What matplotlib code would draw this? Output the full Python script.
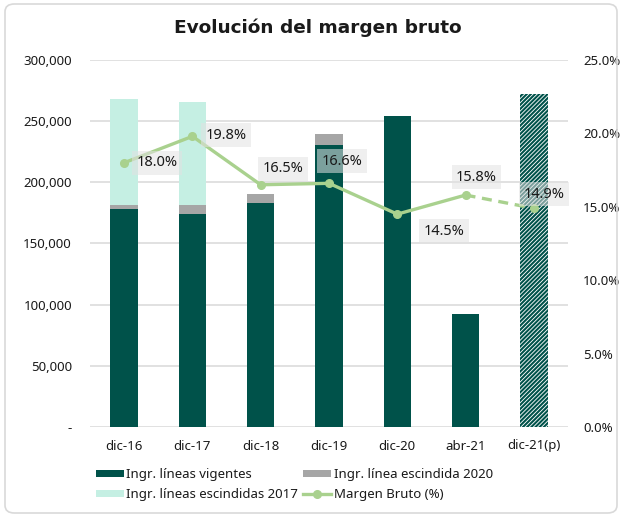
"""Evolución del margen bruto: ingresos apilados (barras) + margen bruto (%) en eje derecho."""

import matplotlib
matplotlib.use("Agg")
import matplotlib.pyplot as plt
from matplotlib.patches import Patch, FancyBboxPatch
from matplotlib.lines import Line2D
from matplotlib.ticker import FuncFormatter, MultipleLocator

plt.rcParams["font.family"] = ["Noto Sans", "DejaVu Sans"]
plt.rcParams["hatch.linewidth"] = 1.5

# Datos
categorias = ["dic-16", "dic-17", "dic-18", "dic-19", "dic-20", "abr-21", "dic-21(p)"]
vigentes = [178000, 174300, 182800, 230500, 254500, 92500, 272000]
escindida_2020 = [3600, 7400, 7900, 9300, 0, 0, 0]
escindidas_2017 = [86500, 84000, 0, 0, 0, 0, 0]
margen = [18.0, 19.8, 16.5, 16.6, 14.5, 15.8, 14.9]

# Paleta
VERDE_OSC = "#00524a"
GRIS = "#a6a6a6"
VERDE_CLARO = "#c5efe3"
LINEA = "#a9d18e"
TEXTO = "#1a1a1a"

W, H = 621, 517
fig = plt.figure(figsize=(W / 100, H / 100), dpi=100)

# marco redondeado de la figura
fig.patches.append(FancyBboxPatch((5 / W, 4 / H), 612 / W, 509 / H,
                                  boxstyle="round,pad=0,rounding_size=0.015",
                                  transform=fig.transFigure, facecolor="none",
                                  edgecolor="#d9d9d9", linewidth=1.2))

ax = fig.add_axes([90 / W, 1 - 427 / H, 478 / W, 367 / H])
ax2 = ax.twinx()

x = list(range(len(categorias)))
ancho = 0.40
n = len(categorias)

# barras reales (la última es proyección, rayada)
ax.bar(x[:-1], vigentes[:-1], width=ancho, color=VERDE_OSC, zorder=2)
ax.bar(x[:-1], escindida_2020[:-1], width=ancho, bottom=vigentes[:-1], color=GRIS, zorder=2)
base3 = [a + b for a, b in zip(vigentes, escindida_2020)]
ax.bar(x[:-1], escindidas_2017[:-1], width=ancho, bottom=base3[:-1], color=VERDE_CLARO, zorder=2)
ax.bar(x[-1], vigentes[-1], width=ancho, facecolor="white", edgecolor=VERDE_OSC,
       hatch="////////", linewidth=0, zorder=2)

ax.set_xlim(-0.5, n - 0.5)
ax.set_ylim(0, 300000)
ax.yaxis.set_major_locator(MultipleLocator(50000))
ax.yaxis.set_major_formatter(FuncFormatter(lambda v, p: "-" if v == 0 else f"{v:,.0f}"))
ax.grid(True, axis="y", color="#d9d9d9", linewidth=1.1, zorder=0)
ax.set_axisbelow(True)
for s in ax.spines.values():
    s.set_visible(False)
for s in ax2.spines.values():
    s.set_visible(False)
ax.set_xticks(x)
ax.set_xticklabels(categorias)
ax.tick_params(axis="x", length=0, pad=9, labelsize=9.5, colors=TEXTO)
ax.tick_params(axis="y", length=0, pad=13, labelsize=9.5, colors=TEXTO)

# margen bruto (%)
ax2.set_ylim(0, 25)
ax2.yaxis.set_major_locator(MultipleLocator(5))
ax2.yaxis.set_major_formatter(FuncFormatter(lambda v, p: f"{v:.1f}%"))
ax2.tick_params(axis="y", length=0, pad=11, labelsize=9.5, colors=TEXTO)
ax2.plot(x[:-1], margen[:-1], color=LINEA, linewidth=2.4, marker="o", markersize=5.5, zorder=4)
ax2.plot(x[-2:], margen[-2:], color=LINEA, linewidth=2.4, linestyle=(0, (3, 2)),
         marker="o", markersize=5.5, zorder=4, markevery=[1])

# desplazamiento de cada etiqueta, en píxeles (dx, dy)
desplaz = [(33, 0), (34, 1), (22, 16), (13, 22), (47, -17), (11, 18), (10, 14)]
for xi, m, (dx, dy) in zip(x, margen, desplaz):
    ax2.annotate(f"{m:.1f}%", (xi, m), xytext=(dx * 0.72, dy * 0.72),
                 textcoords="offset points", ha="center", va="center",
                 fontsize=10.5, color=TEXTO, zorder=5,
                 bbox=dict(boxstyle="square,pad=0.3", facecolor="#e2e2e2",
                           edgecolor="none", alpha=0.55))

fig.text(318 / W, 1 - 28 / H, "Evolución del margen bruto", ha="center", va="center",
         fontsize=13.3, fontweight="bold", family="DejaVu Sans", color=TEXTO)

handles = [
    Patch(facecolor=VERDE_OSC, label="Ingr. líneas vigentes"),
    Patch(facecolor=VERDE_CLARO, label="Ingr. líneas escindidas 2017"),
    Patch(facecolor=GRIS, label="Ingr. línea escindida 2020"),
    Line2D([0], [0], color=LINEA, linewidth=2.4, marker="o", markersize=5.5,
           label="Margen Bruto (%)"),
]
fig.legend(handles=handles, ncol=2, loc="upper left",
           bbox_to_anchor=(84 / W, 1 - 456 / H), frameon=False, fontsize=9.5,
           handlelength=2.1, handleheight=0.45, handletextpad=0.2,
           columnspacing=0.4, labelspacing=0.55, labelcolor=TEXTO)

fig.savefig("out.png", dpi=100)
